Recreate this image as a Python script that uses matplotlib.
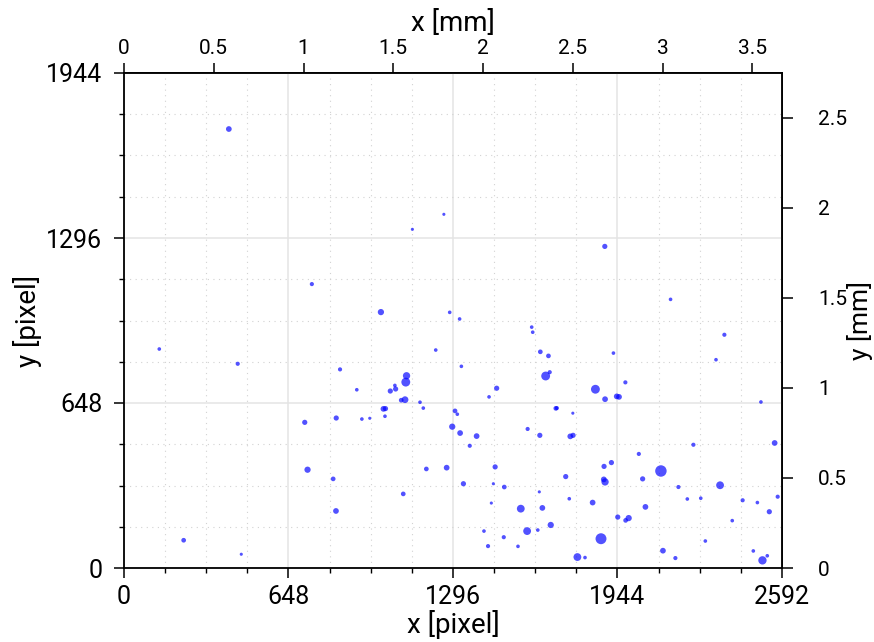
import matplotlib

matplotlib.use("Agg")
import matplotlib.pyplot as plt
from matplotlib.ticker import MultipleLocator, FuncFormatter

plt.rcParams["font.family"] = ["Roboto", "DejaVu Sans"]

# sensor geometry
width_px = 2592
height_px = 1944
pixel_mm = 0.0014142  # mm per pixel

# detected spots: position in pixels and apparent diameter
spot_x = [
    413, 740, 1136, 1260, 1894, 1012, 1283, 139, 1228, 448,
    851, 1113, 1110, 1067, 1070, 1049, 917, 1107, 1092, 1166,
    1179, 1022, 1030, 1028, 836, 937, 968, 712, 723, 824,
    1191, 1271, 1100, 835, 235, 462, 1322, 2153, 1606, 1610,
    2365, 1640, 1672, 1928, 2332, 1329, 1661, 1677, 1468, 1438,
    1857, 1895, 1941, 1950, 1975, 2509, 1304, 1313, 1293, 1701,
    1705, 1768, 1590, 1638, 1758, 1769, 1324, 1389, 1362, 2243,
    2563, 2028, 1920, 1891, 1462, 2115, 1740, 2043, 1890, 1895,
    1337, 1455, 1498, 1636, 2184, 2348, 2575, 1447, 1754, 1846,
    2219, 2272, 2437, 2495, 2542, 1563, 1648, 2054, 1945, 1988,
    1976, 2396, 1418, 1588, 1630, 1681, 1496, 1879, 2290, 1434,
    1552, 1786, 1816, 2123, 2172, 2479, 2515, 2534,
]
spot_y = [
    1724, 1115, 1330, 1389, 1263, 1005, 1004, 860, 856, 802,
    780, 755, 730, 717, 703, 695, 700, 661, 659, 651,
    628, 625, 626, 596, 589, 585, 588, 572, 386, 350,
    389, 394, 291, 224, 109, 54, 978, 1055, 946, 926,
    916, 849, 833, 844, 818, 792, 754, 769, 706, 672,
    702, 663, 674, 672, 729, 652, 617, 604, 555, 627,
    628, 608, 546, 521, 517, 521, 530, 518, 480, 484,
    491, 448, 414, 399, 397, 381, 359, 350, 348, 338,
    331, 331, 318, 299, 318, 325, 280, 255, 272, 257,
    271, 274, 266, 257, 221, 233, 236, 240, 200, 196,
    187, 186, 145, 145, 149, 169, 121, 115, 106, 86,
    85, 43, 41, 68, 39, 67, 30, 48,
]
spot_diameter = [
    5.5, 4, 3, 3, 5, 6, 3.5, 3.5, 3.5, 4,
    4, 7, 8.5, 3.5, 5, 5, 3.5, 6.5, 4.5, 3.5,
    3.5, 5.5, 5, 3.5, 5, 3.5, 3, 5, 6, 4.5,
    4.5, 5.5, 4.5, 5.5, 4.5, 3, 3.5, 3.5, 3.5, 3.5,
    4, 4.5, 4.5, 3.5, 3.5, 3.5, 8.5, 4, 5, 3.5,
    8.5, 5.5, 5.5, 5.5, 4, 3.5, 4.5, 3.5, 6, 4.5,
    4, 3, 4, 5, 5.5, 5, 5.5, 5.5, 4, 4,
    5.5, 4, 5, 5, 5, 11, 5, 5, 5.5, 7,
    5, 3, 4.5, 3, 4, 7.5, 4, 3, 3.5, 5.5,
    3.5, 3.5, 4, 3.5, 5, 7.5, 5.5, 5.5, 5, 6,
    4.5, 3.5, 3.5, 7.5, 3.5, 6, 4, 10.5, 3.5, 4,
    3.5, 7.5, 3.5, 5.5, 4, 3.5, 8, 3.5,
]


def px2mm(v):
    return v * pixel_mm


def mm2px(v):
    return v / pixel_mm


fig = plt.figure(figsize=(8.74, 6.42), dpi=100)
ax = fig.add_axes([124 / 874, 74 / 642, 658 / 874, 495 / 642])

sizes = [(0.75 * d) ** 2 for d in spot_diameter]
ax.scatter(spot_x, spot_y, s=sizes, color="blue", alpha=0.68, linewidths=0, zorder=3)

ax.set_xlim(0, width_px)
ax.set_ylim(0, height_px)

ax.xaxis.set_major_locator(MultipleLocator(648))
ax.yaxis.set_major_locator(MultipleLocator(648))
ax.xaxis.set_minor_locator(MultipleLocator(162))
ax.yaxis.set_minor_locator(MultipleLocator(162))

ax.set_axisbelow(True)
ax.grid(True, which="major", color="#e4e4e4", linewidth=1.1)
ax.grid(True, which="minor", color="#d2d2d2", linewidth=0.8, linestyle=(0, (1, 4)))

ax.tick_params(which="major", direction="out", length=7.5, width=1.1, labelsize=18)
ax.tick_params(axis="x", which="major", pad=5)
ax.tick_params(axis="y", which="major", pad=8)
ax.tick_params(which="minor", direction="out", length=3.8, width=1.0)

for sp in ax.spines.values():
    sp.set_linewidth(1.3)

ax.set_xlabel("x [pixel]", fontsize=20, labelpad=0.5)
ax.set_ylabel("y [pixel]", fontsize=20, labelpad=3)

# millimetre scales on the opposite sides
mm_fmt = FuncFormatter(lambda v, pos: f"{v:g}")

top = ax.secondary_xaxis("top", functions=(px2mm, mm2px))
top.xaxis.set_major_locator(MultipleLocator(0.5))
top.xaxis.set_major_formatter(mm_fmt)
top.xaxis.set_tick_params(which="major", direction="out", length=7.5, width=1.1,
                          labelsize=15, pad=3)
top.set_xlabel("x [mm]", fontsize=20, labelpad=6)

right = ax.secondary_yaxis("right", functions=(px2mm, mm2px))
right.yaxis.set_major_locator(MultipleLocator(0.5))
right.yaxis.set_major_formatter(mm_fmt)
right.yaxis.set_tick_params(which="major", direction="out", length=8, width=1.1,
                            labelsize=15, pad=18)
right.set_ylabel("y [mm]", fontsize=19, labelpad=0)

for s in (top, right):
    for sp in s.spines.values():
        sp.set_linewidth(1.3)

fig.savefig("out.png", dpi=100)
